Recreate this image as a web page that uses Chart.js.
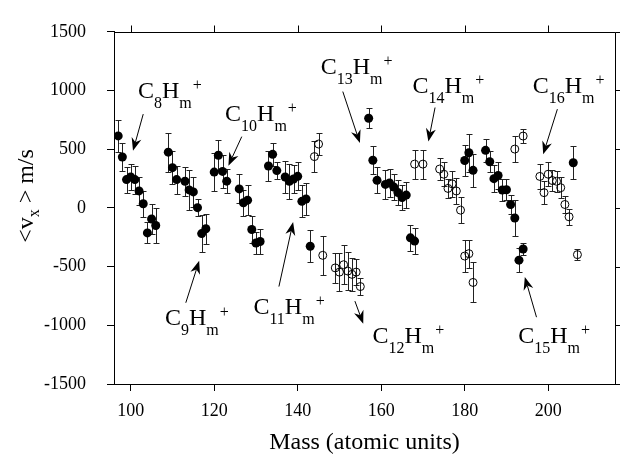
<!DOCTYPE html>
<html>
<head>
<meta charset="utf-8">
<script src="https://cdn.jsdelivr.net/npm/chart.js@4.4.1/dist/chart.umd.min.js"></script>
<style>
  html, body { margin: 0; padding: 0; background: #fff; }
  #wrap { width: 620px; height: 454px; }
</style>
</head>
<body>
<div id="wrap"><canvas id="myChart" width="620" height="454"></canvas></div>
<script>
// filled circles
const filledMass = [97, 98, 99, 100, 101, 102, 103, 104, 105, 106,
  109, 110, 111, 113, 114, 115, 116, 117, 118,
  120, 121, 122, 123, 126, 127, 128, 129, 130, 131,
  133, 134, 135, 137, 138, 139, 140, 141, 142, 143,
  157, 158, 159, 161, 162, 163, 164, 165, 166, 167, 168,
  180, 181, 182, 185, 186, 187, 188, 189, 190, 191, 192, 193, 194,
  206];
const filledVel = [613, 434, 241, 263, 241, 145, 35, -213, -95, -150,
  475, 343, 241, 227, 153, 136, 2, -219, -178,
  305, 448, 311, 228, 162, 44, 66, -184, -299, -286,
  357, 456, 318, 263, 227, 246, 269, 56, 76, -327,
  764, 406, 235, 200, 213, 178, 131, 89, 109, -255, -283,
  404, 470, 320, 490, 393, 249, 276, 152, 155, 29, -86, -445, -350,
  385];
const filledErr = [137, 120, 110, 110, 120, 120, 110, 90, 130, 150,
  165, 140, 120, 124, 170, 130, 72, 157, 126,
  160, 130, 140, 100, 124, 110, 130, 115, 90, 110,
  130, 100, 70, 137, 150, 120, 120, 137, 140, 137,
  83, 118, 110, 120, 120, 110, 110, 110, 110, 113, 113,
  130, 160, 143, 100, 90, 115, 115, 90, 90, 80, 157, 100, 55,
  140];

// open circles
const openMass = [144, 145, 146,
  149, 150, 151, 152, 153, 154, 155,
  168, 170, 174, 175, 176, 177, 178, 179, 180, 181, 182,
  192, 194,
  198, 199, 200, 201, 202, 203, 204, 205, 207];
const openVel = [437, 544, -404,
  -511, -547, -484, -538, -566, -547, -670,
  373, 373, 331, 287, 166, 205, 144, -19, -410, -390, -635,
  501, 612,
  268, 130, 287, 233, 227, 172, 29, -76, -398];
const openErr = [130, 90, 165,
  130, 160, 165, 165, 140, 110, 70,
  124, 124, 90, 100, 80, 110, 110, 110, 137, 120, 170,
  110, 60,
  110, 100, 100, 90, 90, 90, 75, 70, 50];

const xTicks = [100, 120, 140, 160, 180, 200];
const yTicks = [-1500, -1000, -500, 0, 500, 1000, 1500];

// ion labels: carbon count, label anchor and arrow (from -> to), in data units
const ionNames = ["8", "9", "10", "11", "12", "13", "14", "15", "16"];
const ionLabelAt = [[101.75, 940], [108.2, -1000], [122.6, 742], [129.4, -904], [157.9, -1151],
  [145.5, 1143], [167.5, 978], [192.8, -1151], [196.3, 978]];
const ionArrows = [[103.0, 799, 100.55, 486], [113.2, -808, 116.4, -451], [126.6, 607, 123.4, 360],
  [135.5, -670, 138.9, -121], [153.7, -794, 155.7, -987], [150.8, 991, 154.9, 552],
  [172.9, 855, 171.3, 566], [197.2, -931, 194.4, -588], [202.2, 841, 198.8, 456]];

const FONT = '"Liberation Serif", "Times New Roman", serif';
Chart.defaults.font.family = FONT;
Chart.defaults.color = "#000";

const toPoints = (xs, ys) => xs.map((m, i) => ({ x: m, y: ys[i] }));

function drawArrow(ctx, x1, y1, x2, y2) {
  const a = Math.atan2(y2 - y1, x2 - x1);
  const len = 13, half = 5, notch = 9;
  ctx.beginPath();
  ctx.moveTo(x1, y1);
  ctx.lineTo(x2 - Math.cos(a) * notch, y2 - Math.sin(a) * notch);
  ctx.stroke();
  const bx = x2 - Math.cos(a) * len, by = y2 - Math.sin(a) * len;
  const nx = x2 - Math.cos(a) * notch, ny = y2 - Math.sin(a) * notch;
  ctx.beginPath();
  ctx.moveTo(x2, y2);
  ctx.lineTo(bx + Math.sin(a) * half, by - Math.cos(a) * half);
  ctx.lineTo(nx, ny);
  ctx.lineTo(bx - Math.sin(a) * half, by + Math.cos(a) * half);
  ctx.closePath();
  ctx.fill();
}

function drawIon(ctx, n, x, y) {
  const big = "24px " + FONT, small = "16px " + FONT;
  ctx.textAlign = "left";
  ctx.textBaseline = "alphabetic";
  ctx.font = big; ctx.fillText("C", x, y); x += ctx.measureText("C").width;
  ctx.font = small; ctx.fillText(n, x, y + 10); x += ctx.measureText(n).width;
  ctx.font = big; ctx.fillText("H", x, y); x += ctx.measureText("H").width;
  ctx.font = small; ctx.fillText("m", x, y + 10); x += ctx.measureText("m").width + 1;
  ctx.fillText("+", x, y - 8);
}

const framePlugin = {
  id: "frame",
  beforeDatasetsDraw(chart) {
    const ctx = chart.ctx, xs = chart.scales.x, ys = chart.scales.y;
    ctx.save();
    ctx.strokeStyle = "#222";
    ctx.lineWidth = 1;
    const sets = [[filledMass, filledVel, filledErr], [openMass, openVel, openErr]];
    sets.forEach(([ms, vs, es]) => {
      ms.forEach((m, i) => {
        const px = Math.round(xs.getPixelForValue(m)) + 0.5;
        const t = Math.round(ys.getPixelForValue(vs[i] + es[i])) + 0.5;
        const b = Math.round(ys.getPixelForValue(vs[i] - es[i])) + 0.5;
        ctx.beginPath();
        ctx.moveTo(px, t); ctx.lineTo(px, b);
        ctx.moveTo(px - 3, t); ctx.lineTo(px + 3, t);
        ctx.moveTo(px - 3, b); ctx.lineTo(px + 3, b);
        ctx.stroke();
      });
    });
    ctx.restore();
  },
  afterDraw(chart) {
    const ctx = chart.ctx, a = chart.chartArea, xs = chart.scales.x, ys = chart.scales.y;
    ctx.save();
    ctx.strokeStyle = "#000";
    ctx.fillStyle = "#000";
    ctx.lineWidth = 1;
    // top and right frame with outward ticks
    const top = Math.round(a.top) + 0.5, right = Math.round(a.right) + 0.5;
    ctx.beginPath();
    ctx.moveTo(a.left, top); ctx.lineTo(right, top); ctx.lineTo(right, a.bottom);
    xTicks.forEach(v => {
      const px = Math.round(xs.getPixelForValue(v)) + 0.5;
      ctx.moveTo(px, top); ctx.lineTo(px, top - 7);
    });
    yTicks.forEach(v => {
      const py = Math.round(ys.getPixelForValue(v)) + 0.5;
      ctx.moveTo(right, py); ctx.lineTo(right + 7, py);
    });
    ctx.stroke();

    // ion labels and arrows
    ionNames.forEach((n, i) => {
      drawIon(ctx, n, xs.getPixelForValue(ionLabelAt[i][0]), ys.getPixelForValue(ionLabelAt[i][1]));
      const ar = ionArrows[i];
      drawArrow(ctx, xs.getPixelForValue(ar[0]), ys.getPixelForValue(ar[1]),
        xs.getPixelForValue(ar[2]), ys.getPixelForValue(ar[3]));
    });

    // x axis title
    ctx.font = "24px " + FONT;
    ctx.textAlign = "center";
    ctx.textBaseline = "alphabetic";
    ctx.fillText("Mass (atomic units)", (a.left + a.right) / 2, 449);

    // y axis title  <v_x > m/s
    const big = "24px " + FONT, small = "16px " + FONT;
    ctx.font = big;
    const w1 = ctx.measureText("<v").width, w3 = ctx.measureText(" > m/s").width;
    ctx.font = small;
    const w2 = ctx.measureText("x").width;
    ctx.translate(33, 196);
    ctx.rotate(-Math.PI / 2);
    ctx.textAlign = "left";
    let x = -(w1 + w2 + w3) / 2;
    ctx.font = big; ctx.fillText("<v", x, 0); x += w1;
    ctx.font = small; ctx.fillText("x", x, 6); x += w2;
    ctx.font = big; ctx.fillText(" > m/s", x, 0);
    ctx.restore();
  }
};

const ctx = document.getElementById("myChart").getContext("2d");
new Chart(ctx, {
  type: "scatter",
  data: {
    datasets: [
      {
        label: "filled",
        data: toPoints(filledMass, filledVel),
        pointRadius: 4.5,
        pointBackgroundColor: "#000",
        pointBorderColor: "#000",
        pointBorderWidth: 0
      },
      {
        label: "open",
        data: toPoints(openMass, openVel),
        pointRadius: 4,
        pointBackgroundColor: "rgba(0,0,0,0)",
        pointBorderColor: "#000",
        pointBorderWidth: 1
      }
    ]
  },
  options: {
    responsive: false,
    animation: false,
    layout: { padding: { top: 20, right: 5, left: 0, bottom: 0 } },
    plugins: { legend: { display: false }, tooltip: { enabled: false } },
    scales: {
      x: {
        type: "linear",
        min: 96,
        max: 216,
        afterBuildTicks: s => { s.ticks = xTicks.map(v => ({ value: v })); },
        afterFit: s => { s.height = 70; },
        grid: { drawOnChartArea: false, drawTicks: true, tickLength: 7, color: "#000" },
        border: { display: true, color: "#000", width: 1 },
        ticks: { padding: 9, font: { size: 18 }, color: "#000", maxRotation: 0, autoSkip: false,
          callback: v => String(v) }
      },
      y: {
        type: "linear",
        min: -1500,
        max: 1500,
        afterBuildTicks: s => { s.ticks = yTicks.map(v => ({ value: v })); },
        afterFit: s => { s.width = 114; },
        grid: { drawOnChartArea: false, drawTicks: true, tickLength: 7, color: "#000" },
        border: { display: true, color: "#000", width: 1 },
        ticks: { padding: 21, font: { size: 18 }, color: "#000", autoSkip: false,
          callback: v => String(v) }
      }
    }
  },
  plugins: [framePlugin]
});
</script>
</body>
</html>
